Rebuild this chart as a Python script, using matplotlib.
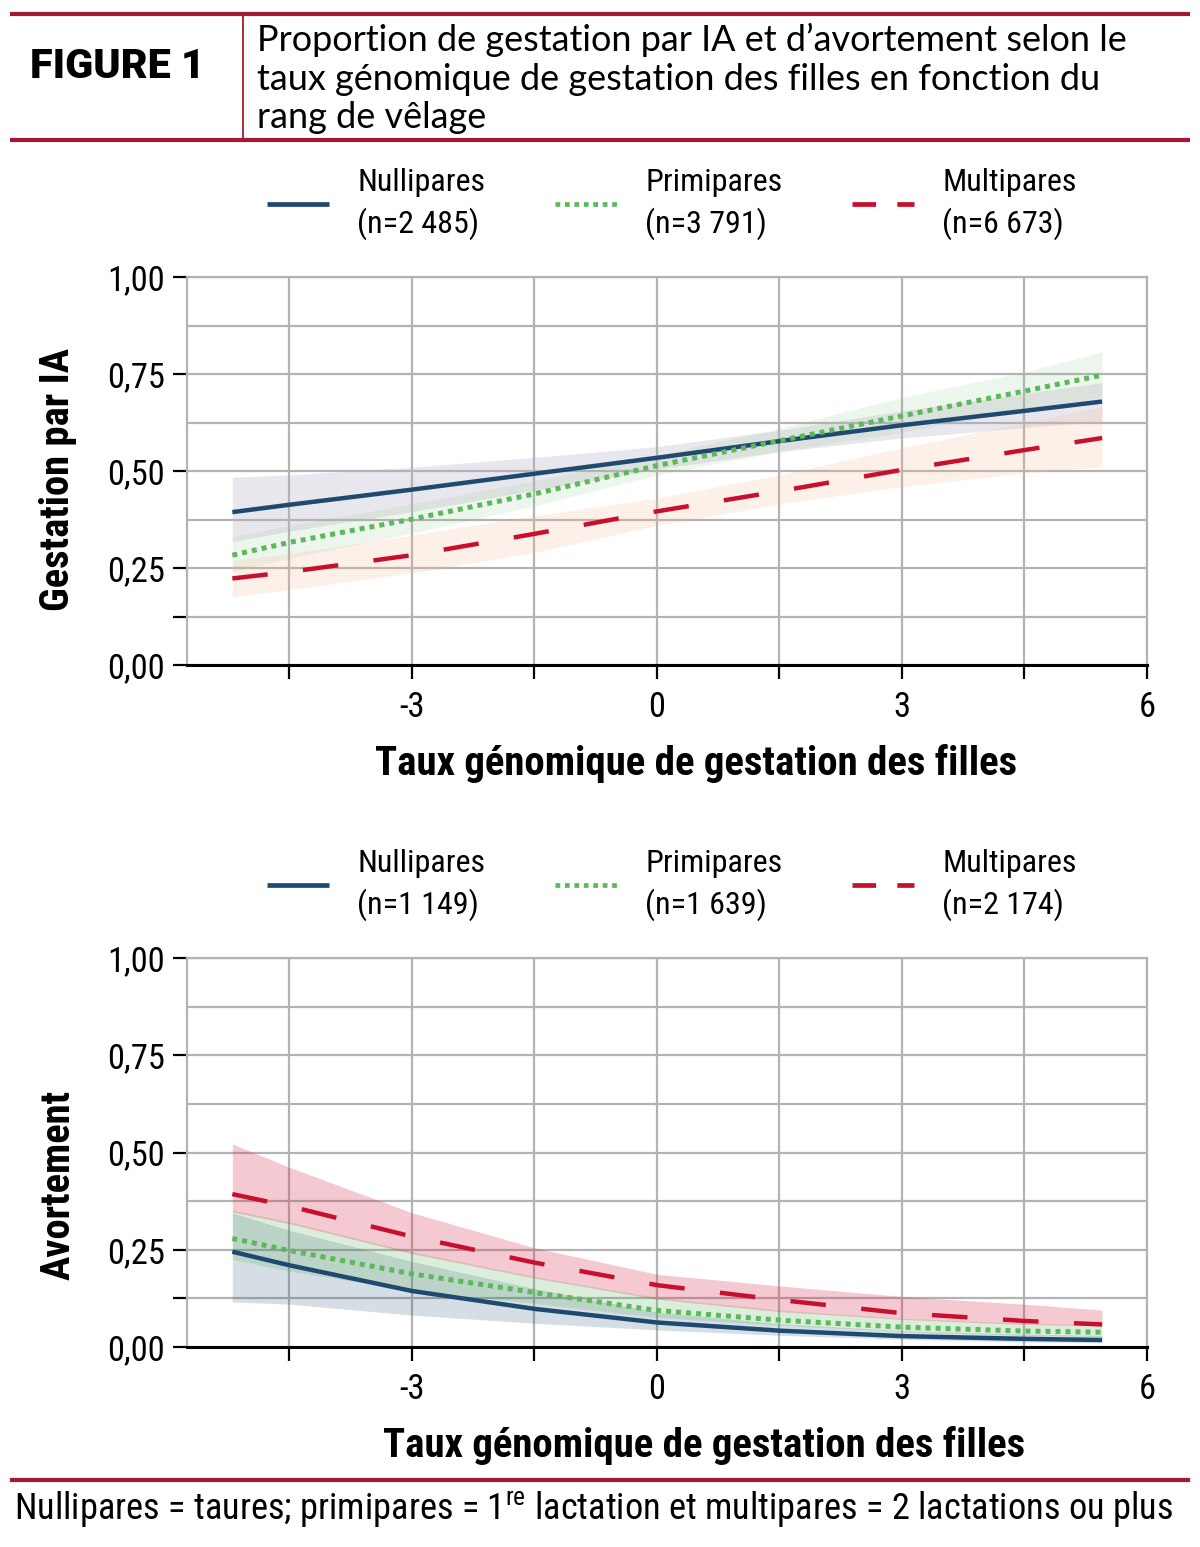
import matplotlib
matplotlib.use("Agg")
import matplotlib.pyplot as plt
from matplotlib import font_manager as fm
from matplotlib.lines import Line2D
from matplotlib.ticker import FixedLocator, FixedFormatter

names = {f.name for f in fm.fontManager.ttflist}
COND = None
for cand in ["Liberation Sans Narrow", "Roboto Condensed", "Arial Narrow", "Open Sans Condensed"]:
    if cand in names:
        COND = cand
        break
STRETCH = "normal"
if COND is None:
    cond_dv = [f for f in fm.fontManager.ttflist
               if f.name == "DejaVu Sans" and str(f.stretch) in ("condensed", "semi-condensed")]
    if cond_dv:
        COND, STRETCH = "DejaVu Sans", "condensed"
    else:
        COND = "Liberation Sans"
TITLE_FONT = "Lato" if "Lato" in names else "DejaVu Sans"
HEAVY_FONT = "Roboto" if "Roboto" in names else "DejaVu Sans"

plt.rcParams["font.family"] = [COND, "DejaVu Sans"]
plt.rcParams["font.stretch"] = STRETCH
plt.rcParams["mathtext.fontset"] = "custom"
plt.rcParams["mathtext.rm"] = COND

# ---------------- data ----------------
x_vals = [-5.2, -4.5, -3.0, -1.5, 0.0, 1.5, 3.0, 4.5, 5.45]

groups = ["Nullipares", "Primipares", "Multipares"]
n_top = ["2 485", "3 791", "6 673"]
n_bottom = ["1 149", "1 639", "2 174"]

# Gestation par IA
gest_null = [0.394, 0.413, 0.452, 0.493, 0.534, 0.577, 0.618, 0.655, 0.679]
gest_null_lo = [0.318, 0.345, 0.395, 0.450, 0.505, 0.550, 0.585, 0.612, 0.628]
gest_null_hi = [0.484, 0.490, 0.510, 0.535, 0.563, 0.605, 0.655, 0.700, 0.728]
gest_prim = [0.283, 0.316, 0.376, 0.441, 0.514, 0.578, 0.642, 0.706, 0.747]
gest_prim_lo = [0.240, 0.275, 0.340, 0.410, 0.490, 0.550, 0.600, 0.660, 0.690]
gest_prim_hi = [0.330, 0.360, 0.415, 0.475, 0.540, 0.610, 0.690, 0.755, 0.807]
gest_mult = [0.223, 0.240, 0.283, 0.338, 0.396, 0.448, 0.503, 0.554, 0.585]
gest_mult_lo = [0.176, 0.195, 0.237, 0.290, 0.360, 0.415, 0.460, 0.495, 0.511]
gest_mult_hi = [0.270, 0.287, 0.335, 0.385, 0.430, 0.490, 0.560, 0.625, 0.666]

# Avortement
avort_null = [0.245, 0.210, 0.144, 0.098, 0.063, 0.042, 0.028, 0.021, 0.018]
avort_null_lo = [0.116, 0.110, 0.082, 0.061, 0.044, 0.030, 0.020, 0.013, 0.011]
avort_null_hi = [0.345, 0.300, 0.220, 0.150, 0.090, 0.060, 0.042, 0.033, 0.030]
avort_prim = [0.279, 0.248, 0.188, 0.140, 0.094, 0.069, 0.051, 0.041, 0.038]
avort_prim_lo = [0.225, 0.195, 0.145, 0.112, 0.076, 0.056, 0.040, 0.030, 0.027]
avort_prim_hi = [0.352, 0.322, 0.245, 0.181, 0.127, 0.095, 0.074, 0.061, 0.057]
avort_mult = [0.393, 0.362, 0.284, 0.217, 0.159, 0.121, 0.087, 0.067, 0.058]
avort_mult_lo = [0.347, 0.317, 0.240, 0.177, 0.123, 0.091, 0.071, 0.058, 0.054]
avort_mult_hi = [0.522, 0.462, 0.345, 0.255, 0.187, 0.157, 0.130, 0.110, 0.095]

x_ticks = [-4.5, -3, -1.5, 0, 1.5, 3, 4.5, 6]
x_ticklabels = ["", "-3", "", "0", "", "3", "", "6"]
y_ticks = [0, 0.125, 0.25, 0.5, 0.75, 1.0]
y_ticklabels = ["0,00", "", "0,25", "0,50", "0,75", "1,00"]
y_minor = [0.375, 0.625, 0.875]

# ---------------- style ----------------
NAVY = "#1f4a70"
GREEN = "#5cb85a"
RED = "#c8102e"
HEAD_RED = "#a3192f"
GRID = "#b3b3b3"

W, H = 1200, 1547
fig = plt.figure(figsize=(W / 100, H / 100), dpi=100)
renderer = fig.canvas.get_renderer()


def fx(px):
    return px / W


def fy(py):
    return 1 - py / H


def size_for(s, target_px, base=24, **kw):
    t = fig.text(0, 0, s, fontsize=base, **kw)
    w = t.get_window_extent(renderer).width
    t.remove()
    return base * target_px / w


TICK_FS = size_for("0,75", 58)
LEG_FS = size_for("Nullipares", 128)
XLAB_FS = size_for("Taux g\u00e9nomique de gestation des filles", 646, fontweight="bold")
YLAB_FS = size_for("Gestation par IA", 264, fontweight="bold")
TITLE_FS = size_for("Proportion de gestation par IA et d\u2019avortement selon le", 870,
                    family=TITLE_FONT)
FIG_FS = size_for("FIGURE 1", 175, family=HEAVY_FONT, fontweight="heavy")
FOOT_TXT = r"Nullipares = taures; primipares = 1$^{\mathrm{re}}$ lactation et multipares = 2 lactations ou plus"
FOOT_FS = size_for(FOOT_TXT, 1161)

# header
fig.add_artist(Line2D([fx(12), fx(1188)], [fy(14), fy(14)], color=HEAD_RED, lw=3))
fig.add_artist(Line2D([fx(12), fx(1188)], [fy(140), fy(140)], color=HEAD_RED, lw=3))
fig.add_artist(Line2D([fx(243), fx(243)], [fy(14), fy(140)], color=HEAD_RED, lw=1.3))
fig.text(fx(30), fy(67), "FIGURE 1", fontsize=FIG_FS, fontweight="heavy",
         family=HEAVY_FONT, va="center", ha="left")
title_lines = ["Proportion de gestation par IA et d\u2019avortement selon le",
               "taux g\u00e9nomique de gestation des filles en fonction du",
               "rang de v\u00ealage"]
for i, t in enumerate(title_lines):
    fig.text(fx(257), fy(40 + 39 * i), t, fontsize=TITLE_FS, family=TITLE_FONT,
             va="center", ha="left")

# footer
fig.add_artist(Line2D([fx(12), fx(1188)], [fy(1480), fy(1480)], color=HEAD_RED, lw=3))
fig.text(fx(14), fy(1509), FOOT_TXT, fontsize=FOOT_FS, va="center", ha="left")


def make_panel(rect, series, band_colors, band_alpha, ylabel, ylabel_y, xlabel_x, ns, leg_y):
    ax = fig.add_axes(rect)
    ax.set_xlim(-5.755, 6)
    ax.set_ylim(0, 1)
    styles = [dict(color=NAVY, lw=3.2, ls="-", solid_capstyle="butt", solid_joinstyle="round"),
              dict(color=GREEN, lw=3.6, ls=(0, (1, 1)), dash_capstyle="butt"),
              dict(color=RED, lw=3.2, ls=(0, (8, 8)), dash_capstyle="butt")]
    for (y, lo, hi), c, a in zip(series, band_colors, band_alpha):
        ax.fill_between(x_vals, lo, hi, color=c, alpha=a, lw=0, zorder=1)
    for (y, lo, hi), st in zip(series, styles):
        ax.plot(x_vals, y, zorder=3, **st)
    ax.xaxis.set_major_locator(FixedLocator(x_ticks))
    ax.xaxis.set_major_formatter(FixedFormatter(x_ticklabels))
    ax.yaxis.set_major_locator(FixedLocator(y_ticks))
    ax.yaxis.set_major_formatter(FixedFormatter(y_ticklabels))
    ax.yaxis.set_minor_locator(FixedLocator(y_minor))
    ax.tick_params(axis="y", which="minor", length=0)
    ax.tick_params(axis="both", which="major", direction="out", length=10,
                   width=1.6, color="black", labelsize=TICK_FS)
    ax.tick_params(axis="x", pad=9)
    ax.tick_params(axis="y", pad=6)
    ax.grid(True, which="both", color=GRID, lw=1.6, zorder=0)
    ax.set_axisbelow(True)
    for s in ["top", "right", "left"]:
        ax.spines[s].set_color(GRID)
        ax.spines[s].set_linewidth(1.6)
    ax.spines["bottom"].set_color("black")
    ax.spines["bottom"].set_linewidth(2.2)
    ax.set_ylabel(ylabel, fontsize=YLAB_FS, fontweight="bold", va="center")
    ax.yaxis.set_label_coords(-0.134, ylabel_y)
    ax.set_xlabel("Taux g\u00e9nomique de gestation des filles", fontsize=XLAB_FS,
                  fontweight="bold", va="center")
    ax.xaxis.set_label_coords(xlabel_x, -0.2526)
    handles = [Line2D([], [], color=NAVY, lw=3.4, solid_capstyle="butt"),
               Line2D([], [], color=GREEN, lw=3.4, ls=(0, (1, 1)), dash_capstyle="butt"),
               Line2D([], [], color=RED, lw=3.4, ls=(0, (5, 4.5)), dash_capstyle="butt")]
    labels = [f"{g}\n(n={n})" for g, n in zip(groups, ns)]
    fs_px = LEG_FS * 100 / 72
    leg = fig.legend(handles, labels, loc="center", bbox_to_anchor=(fx(672), fy(leg_y)),
                     ncol=3, frameon=False, fontsize=LEG_FS, handlelength=62 / fs_px,
                     handletextpad=28 / fs_px, columnspacing=70 / fs_px, labelspacing=0.2)
    for t in leg.get_texts():
        t.set_linespacing(1.45)
    return ax


top_series = [(gest_null, gest_null_lo, gest_null_hi),
              (gest_prim, gest_prim_lo, gest_prim_hi),
              (gest_mult, gest_mult_lo, gest_mult_hi)]
bot_series = [(avort_null, avort_null_lo, avort_null_hi),
              (avort_prim, avort_prim_lo, avort_prim_hi),
              (avort_mult, avort_mult_lo, avort_mult_hi)]

make_panel([fx(187), fy(665), fx(960), 388 / H], top_series,
           ["#b8b0c8", "#8cc884", "#f4b890"], [0.30, 0.15, 0.20],
           "Gestation par IA", 0.477, 0.53, n_top, 204)
make_panel([fx(187), fy(1347), fx(960), 389 / H], bot_series,
           [NAVY, "#4fae4f", "#d42a4c"], [0.18, 0.20, 0.25],
           "Avortement", 0.416, 0.539, n_bottom, 885)

fig.savefig("out.png", dpi=100)
